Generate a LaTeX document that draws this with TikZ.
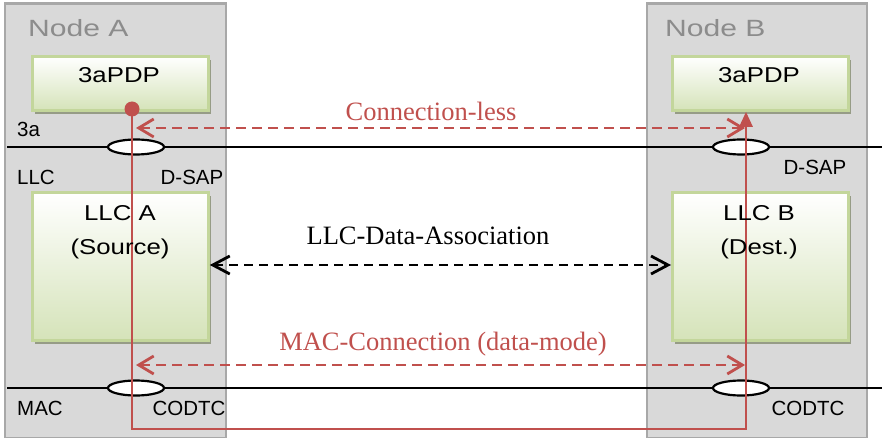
\documentclass[tikz,border=0pt]{standalone}
\usepackage{fontspec}
\setmainfont{Liberation Sans}
\newfontfamily\titlefont[FakeStretch=1.28]{Liberation Sans}
\newfontfamily\boxfont[FakeStretch=1.2]{Liberation Sans}
\newfontfamily\seriflabel{Liberation Serif}
\usetikzlibrary{arrows.meta,shapes.geometric,shadows}

\definecolor{panelfill}{HTML}{D9D9D9}
\definecolor{paneledge}{HTML}{A8A8A8}
\definecolor{titlegray}{HTML}{8C8C8C}
\definecolor{boxedge}{HTML}{C3D69B}
\definecolor{boxbottom}{HTML}{D5E3B9}
\definecolor{boxshadow}{HTML}{969C86}
\definecolor{linkred}{HTML}{C0504D}

\tikzset{
  panel/.style={draw=paneledge, fill=panelfill, line width=2.2pt, inner sep=0pt,
    anchor=north west, minimum width=#1, minimum height=434pt},
  layerbox/.style={draw=boxedge, line width=2.8pt, top color=white, bottom color=boxbottom,
    inner sep=0pt, anchor=north west, minimum width=176pt, minimum height=#1,
    drop shadow={shadow xshift=3pt, shadow yshift=-4pt, fill=boxshadow, opacity=1}},
  paneltitle/.style={font=\titlefont\fontsize{23.5}{28}\selectfont, text=titlegray,
    anchor=base west, inner sep=0pt},
  boxtext/.style={font=\boxfont\fontsize{21.5}{25}\selectfont, anchor=base, inner sep=0pt},
  sidelabel/.style={font=\fontsize{20.5}{24}\selectfont, inner sep=0pt},
  flowlabel/.style={font=\seriflabel\fontsize{26.5}{30}\selectfont, anchor=base, inner sep=0pt},
  layerline/.style={line width=2.4pt, black},
  sap/.style={ellipse, draw=black, fill=white, line width=2.2pt, inner sep=0pt,
    minimum width=56pt, minimum height=15pt},
  redflow/.style={linkred, line width=2.8pt, dash pattern=on 10pt off 6pt,
    {Straight Barb[length=15pt,width=18pt]}-{Straight Barb[length=15pt,width=18pt]}},
  datalink/.style={black, line width=2.8pt, dash pattern=on 9pt off 6pt,
    {Straight Barb[length=17pt,width=18pt]}-{Straight Barb[length=17pt,width=18pt]}},
  datapath/.style={linkred, line width=2.6pt, -{Triangle[length=15pt,width=13pt]}},
}

\begin{document}
\begin{tikzpicture}[x=1pt, y=-1pt]
\useasboundingbox (0,0) rectangle (882,438);

% node panels
\node[panel=221pt] (panelA) at (3.5,2.5) {};
\node[panel=220pt] (panelB) at (645.5,2.5) {};
\node[paneltitle] (titleA) at (28,37) {Node A};
\node[paneltitle] (titleB) at (665,37) {Node B};

% protocol boxes
\node[layerbox=54pt] (pdpA) at (31,55) {};
\node[layerbox=54pt] (pdpB) at (671,55) {};
\node[layerbox=148pt] (llcA) at (31,191) {};
\node[layerbox=148pt] (llcB) at (671,191) {};

% layer boundaries
\coordinate (upperL) at (7,147);
\coordinate (upperR) at (882,147);
\coordinate (lowerL) at (7,388);
\coordinate (lowerR) at (882,388);
\draw[layerline] (upperL) -- (upperR);
\draw[layerline] (lowerL) -- (lowerR);

% service access points
\node[sap] (dsapA) at (136,147) {};
\node[sap] (dsapB) at (741,147) {};
\node[sap] (codtcA) at (136,388) {};
\node[sap] (codtcB) at (741,388) {};

% layer labels
\node[sidelabel, anchor=base west] (lbl3a) at (17,137) {3a};
\node[sidelabel, anchor=base west] (lblLLC) at (17,185) {LLC};
\node[sidelabel, anchor=base] (lblDsapA) at (192,185) {D-SAP};
\node[sidelabel, anchor=base] (lblDsapB) at (815,175) {D-SAP};
\node[sidelabel, anchor=base west] (lblMAC) at (17,415) {MAC};
\node[sidelabel, anchor=base] (lblCodtcA) at (189,415) {CODTC};
\node[sidelabel, anchor=base] (lblCodtcB) at (808,415) {CODTC};

% data path from source PDP down through MAC and up to destination PDP
\coordinate (srcPt) at (132,109);
\coordinate (cornerA) at (132,429);
\coordinate (cornerB) at (746,429);
\draw[datapath, line join=miter] (srcPt) -- (cornerA) -- (cornerB) -- (cornerB |- pdpB.south);
\fill[linkred] (srcPt) circle[radius=7.5pt];

% box texts
\node[boxtext] (pdpAtext) at (119,83) {3aPDP};
\node[boxtext] (pdpBtext) at (759,83) {3aPDP};
\node[boxtext] (llcAtext) at (120,221) {LLC A};
\node[boxtext] (llcAsub) at (120,254) {(Source)};
\node[boxtext] (llcBtext) at (759,221) {LLC B};
\node[boxtext] (llcBsub) at (759,254) {(Dest.)};

% logical connections
\coordinate (clA) at (136,128);
\coordinate (clB) at (745,128);
\draw[redflow] (clA) -- (clB);
\node[flowlabel, text=linkred] (clLabel) at (431,121) {Connection-less};

\draw[datalink] (llcA.east |- 0,265) -- (llcB.west |- 0,265);
\node[flowlabel] (assocLabel) at (428,244) {LLC-Data-Association};

\coordinate (mcA) at (136,365);
\coordinate (mcB) at (745,365);
\draw[redflow] (mcA) -- (mcB);
\node[flowlabel, text=linkred] (mcLabel) at (443,350) {MAC-Connection (data-mode)};
\end{tikzpicture}
\end{document}
